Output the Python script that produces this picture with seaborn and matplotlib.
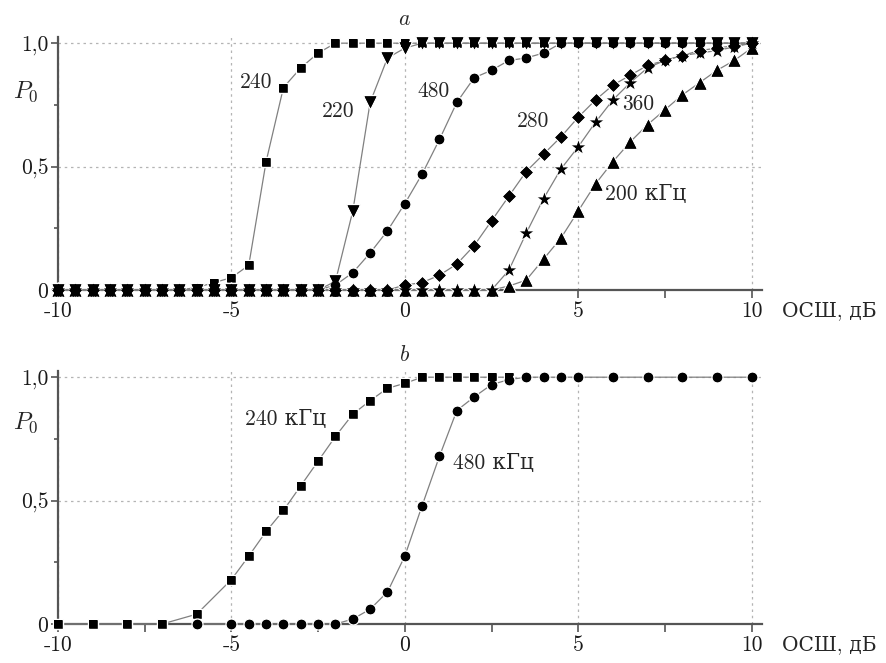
import numpy as np
import pandas as pd
import seaborn as sns
import matplotlib.pyplot as plt

# SNR grid, dB
snr_a = np.arange(-10, 10.01, 0.5)
snr_b_240 = [-10, -9, -8, -7, -6, -5, -4.5, -4, -3.5, -3, -2.5, -2, -1.5, -1, -0.5,
             0, 0.5, 1, 1.5, 2, 2.5, 3]
snr_b_480 = [-6, -5, -4.5, -4, -3.5, -3, -2.5, -2, -1.5, -1, -0.5,
             0, 0.5, 1, 1.5, 2, 2.5, 3, 3.5, 4, 4.5, 5, 6, 7, 8, 9, 10]

# panel a: P0 vs SNR for several frequencies
p_240 = [0] * 8 + [0.01, 0.03, 0.05, 0.10, 0.52, 0.82, 0.90, 0.96] + [1.0] * 25
p_220 = [0] * 16 + [0.035, 0.32, 0.76, 0.94, 0.98] + [1.0] * 20
p_480 = [0] * 16 + [0.02, 0.07, 0.15, 0.24, 0.35, 0.47, 0.61, 0.76, 0.86, 0.89,
                    0.93, 0.94, 0.96] + [1.0] * 12
p_280 = [0] * 20 + [0.02, 0.03, 0.06, 0.105, 0.18, 0.28, 0.38, 0.48, 0.55, 0.62,
                    0.70, 0.77, 0.83, 0.87, 0.91, 0.93, 0.95, 0.97, 0.98, 0.99, 1.0]
p_360 = [0] * 26 + [0.08, 0.23, 0.37, 0.49, 0.58, 0.68, 0.77, 0.84, 0.90, 0.93,
                    0.95, 0.96, 0.97, 0.985, 1.0]
p_200 = [0] * 26 + [0.016, 0.04, 0.125, 0.21, 0.32, 0.43, 0.52, 0.60, 0.67, 0.73,
                    0.79, 0.84, 0.89, 0.93, 0.98]

# panel b
pb_240 = [0, 0, 0, 0, 0.04, 0.18, 0.275, 0.375, 0.46, 0.56, 0.66, 0.76, 0.85,
          0.905, 0.955, 0.975] + [1.0] * 6
pb_480 = [0] * 8 + [0.02, 0.06, 0.13, 0.275, 0.48, 0.68, 0.865, 0.92, 0.97,
                    0.99] + [1.0] * 9

sns.set_style("ticks")
plt.rcParams["font.family"] = ["cmr10", "DejaVu Serif"]
plt.rcParams["mathtext.fontset"] = "cm"
plt.rcParams["axes.unicode_minus"] = False
plt.rcParams["axes.formatter.use_mathtext"] = True

fig = plt.figure(figsize=(8.87, 6.63), dpi=100)
ax_a = fig.add_axes([0.0654, 0.5626, 0.7937, 0.3816])
ax_b = fig.add_axes([0.0654, 0.0588, 0.7937, 0.3816])

line_kw = dict(color="#808080", linewidth=0.9, markerfacecolor="black",
               markeredgecolor="white", markeredgewidth=1.0, clip_on=False,
               errorbar=None, legend=False)


def draw(ax, series):
    # lines with white-ringed markers first, then solid marker tops
    for x, y, marker, ms in series:
        df = pd.DataFrame({"snr": x, "p": y})
        sns.lineplot(data=df, x="snr", y="p", ax=ax, marker=marker,
                     markersize=ms, zorder=3, **line_kw)
    for x, y, marker, ms in series:
        df = pd.DataFrame({"snr": x, "p": y})
        sns.scatterplot(data=df, x="snr", y="p", ax=ax, marker=marker,
                        s=(ms - 1.0) ** 2, color="black", linewidth=0,
                        zorder=4, clip_on=False, legend=False)


draw(ax_a, [(snr_a, p_240, "s", 7),
            (snr_a, p_480, "o", 7.8),
            (snr_a, p_280, "D", 7.5),
            (snr_a, p_200, "^", 9.5),
            (snr_a, p_360, "*", 11),
            (snr_a, p_220, "v", 9.5)])

draw(ax_b, [(snr_b_240, pb_240, "s", 7),
            (snr_b_480, pb_480, "o", 7.8)])

fs = 15.5
for ax in (ax_a, ax_b):
    ax.set_xlim(-10, 10.3)
    ax.set_ylim(0, 1.025)
    ax.set_xticks([-10, -5, 0, 5, 10])
    ax.set_xticklabels(["-10", "-5", "0", "5", "10"], fontsize=fs)
    ax.set_xticks([-7.5, -2.5, 2.5, 7.5], minor=True)
    ax.set_yticks([0, 0.5, 1.0])
    ax.set_yticklabels(["0", "0,5", "1,0"], fontsize=fs)
    ax.set_yticks([0.25, 0.75], minor=True)
    ax.set_xlabel("")
    ax.set_ylabel("")
    sns.despine(ax=ax)
    for s in ("left", "bottom"):
        ax.spines[s].set_color("#555555")
        ax.spines[s].set_linewidth(1.6)
    ax.tick_params(which="both", color="#555555", width=1.2, labelcolor="#1a1a1a")
    ax.tick_params(axis="x", which="both", length=6, pad=2)
    ax.tick_params(axis="y", which="major", length=5, pad=2)
    ax.tick_params(axis="y", which="minor", length=3)
    ax.grid(True, which="major", color="#b4b4b4", linestyle=(0, (2, 3)), linewidth=0.9)
    ax.set_axisbelow(True)
    ax.annotate("ОСШ, дБ", xy=(10.88, 0), xycoords=("data", "axes fraction"),
                xytext=(0, -8), textcoords="offset points", ha="left", va="top",
                fontsize=fs - 1)

# panel a labels
ax_a.text(0, 1.073, "$a$", ha="center", va="baseline", fontsize=fs)
ax_a.text(-11.31, 0.777, "$P_0$", ha="left", va="baseline", fontsize=fs + 2)
ax_a.text(-4.76, 0.818, "240", fontsize=fs)
ax_a.text(-2.40, 0.70, "220", fontsize=fs)
ax_a.text(0.375, 0.78, "480", fontsize=fs)
ax_a.text(3.23, 0.66, "280", fontsize=fs)
ax_a.text(6.26, 0.73, "360", fontsize=fs)
ax_a.text(5.77, 0.364, "200 кГц", fontsize=fs)

# panel b labels
ax_b.text(0, 1.065, "$b$", ha="center", va="baseline", fontsize=fs)
ax_b.text(-11.31, 0.79, "$P_0$", ha="left", va="baseline", fontsize=fs + 2)
ax_b.text(-4.62, 0.805, "240 кГц", fontsize=fs)
ax_b.text(1.385, 0.63, "480 кГц", fontsize=fs)

fig.savefig("out.png", dpi=100)
